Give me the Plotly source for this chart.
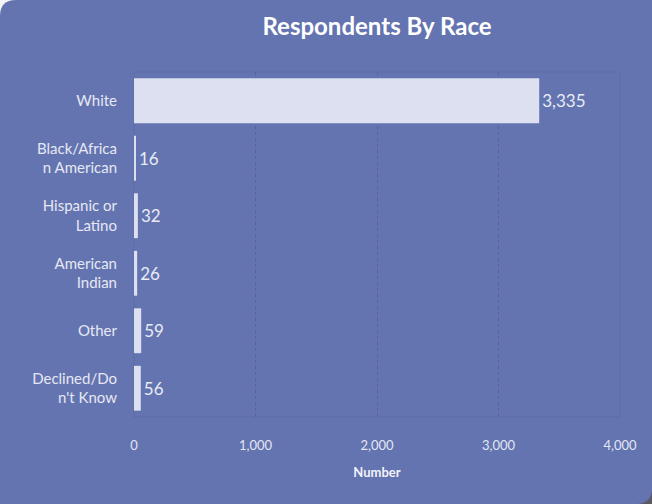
import plotly.graph_objects as go

# Survey respondents by race
categories = ["White", "Black/Africa<br>n American", "Hispanic or<br>Latino",
              "American<br>Indian", "Other", "Declined/Do<br>n't Know"]
counts = [3335, 16, 32, 26, 59, 56]
x_ticks = [0, 1000, 2000, 3000, 4000]

W, H = 652, 504
L, R, T, B = 134, 32, 72, 87
PW, PH = W - L - R, H - T - B

CARD = "#6474B0"
BAR = "#DDE0F0"
TEXT = "#E9EBF6"


def px(x):
    return (x - L) / PW


def py(y):
    return (H - B - y) / PH


def card_path(r):
    # card outline with rounded top-left and bottom-right corners
    pts = [
        f"M {px(0)} {py(r)}",
        f"Q {px(0)} {py(0)} {px(r)} {py(0)}",
        f"L {px(W)} {py(0)}",
        f"L {px(W)} {py(H - r)}",
        f"Q {px(W)} {py(H)} {px(W - r)} {py(H)}",
        f"L {px(0)} {py(H)}",
        "Z",
    ]
    return " ".join(pts)


fig = go.Figure(
    go.Bar(
        x=counts,
        y=categories,
        orientation="h",
        marker=dict(color=BAR, line=dict(width=0)),
        width=0.78,
        text=[f"{v:,}" for v in counts],
        textposition="outside",
        textfont=dict(family="Lato", size=17, color=TEXT),
        cliponaxis=False,
    )
)

fig.update_layout(
    width=W,
    height=H,
    margin=dict(l=L, r=R, t=T, b=B),
    paper_bgcolor="#F4F4F7",
    plot_bgcolor="rgba(0,0,0,0)",
    font=dict(family="Lato", color=TEXT),
    showlegend=False,
    title=dict(
        text="<b>Respondents By Race</b>",
        x=(L + PW / 2) / W,
        xanchor="center",
        y=1 - 27 / H,
        yanchor="middle",
        font=dict(family="Lato", size=24, color="#FFFFFF"),
    ),
    shapes=[
        dict(type="rect", xref="paper", yref="paper", layer="below",
             x0=px(W - 30), x1=px(W), y0=py(H), y1=py(H - 30),
             fillcolor="#5A5A60", line=dict(width=0)),
        dict(type="path", xref="paper", yref="paper", layer="below",
             path=card_path(16), fillcolor=CARD, line=dict(width=0)),
        dict(type="rect", xref="paper", yref="paper", layer="below",
             x0=0, x1=1, y0=0, y1=1,
             fillcolor="rgba(0,0,0,0)",
             line=dict(color="rgba(85,98,155,0.45)", width=1)),
    ],
)

fig.update_xaxes(
    range=[0, 4000],
    tickvals=x_ticks,
    tickformat=",",
    showgrid=True,
    gridcolor="rgba(82,94,152,0.8)",
    griddash="dot",
    gridwidth=1,
    zeroline=False,
    showline=False,
    ticks="",
    ticklabelstandoff=19,
    tickfont=dict(family="Lato", size=13, color="#E3E6F3"),
    title=dict(text="<b>Number</b>", standoff=15,
               font=dict(family="Lato", size=13, color="#F2F3FA")),
    fixedrange=True,
)

fig.update_yaxes(
    autorange="reversed",
    showgrid=False,
    zeroline=False,
    showline=False,
    ticks="",
    ticklabelstandoff=16,
    tickfont=dict(family="Lato", size=15, color="#E6E8F4"),
    fixedrange=True,
)

fig.write_html("out.html")
